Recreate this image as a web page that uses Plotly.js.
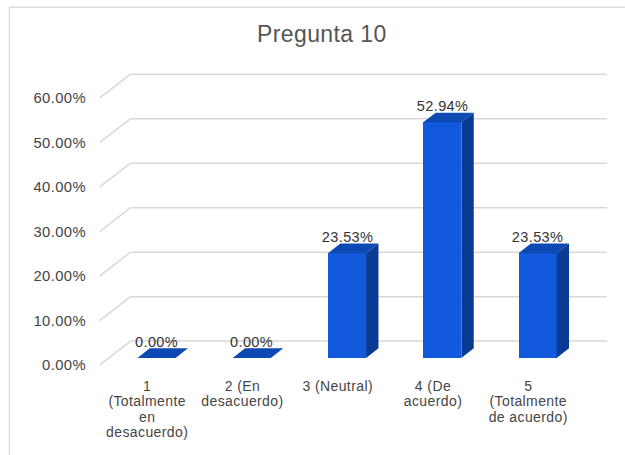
<!DOCTYPE html>
<html>
<head>
<meta charset="utf-8">
<script src="https://cdn.plot.ly/plotly-3.0.1.min.js"></script>
<style>
html, body { margin: 0; padding: 0; background: #fff; }
#chart { width: 625px; height: 455px; }
#chart text { letter-spacing: 0.4px; }
</style>
</head>
<body>
<div id="chart"></div>
<script>
// Question 10 answers, share of respondents per option
const categories = [
  '1<br>(Totalmente<br>en<br>desacuerdo)',
  '2 (En<br>desacuerdo)',
  '3 (Neutral)',
  '4 (De<br>acuerdo)',
  '5<br>(Totalmente<br>de acuerdo)'
];
const shares = [0, 0, 0.2353, 0.5294, 0.2353];
const yTicks = [0, 0.1, 0.2, 0.3, 0.4, 0.5, 0.6];
const chartTitle = 'Pregunta 10';

// Pseudo-3D geometry, in axis units (x: one unit per category, y: share)
const DEPTH_X = 0.3256, DEPTH_Y = 0.0539;   // floor depth vector
const BAR_NEAR = 0.3, BAR_FAR = 0.7;        // bar depth span (fraction of floor depth)
const BAR_LEFT = 0.3, BAR_RIGHT = 0.7;      // bar width span inside its slot

// Pixel frame of the plot
const W = 625, H = 455;
const ORIGIN_X = 100, ORIGIN_Y = 365, PX_PER_CAT = 95.2, PX_PER_UNIT = 445;
const X_RANGE = [-0.1, 5.4], Y_RANGE = [-0.02, 0.67];
const marginL = ORIGIN_X + X_RANGE[0] * PX_PER_CAT;
const marginR = W - (ORIGIN_X + X_RANGE[1] * PX_PER_CAT);
const marginT = ORIGIN_Y - Y_RANGE[1] * PX_PER_UNIT;
const marginB = H - (ORIGIN_Y - Y_RANGE[0] * PX_PER_UNIT);
const plotW = W - marginL - marginR, plotH = H - marginT - marginB;
const paperX = px => (px - marginL) / plotW;
const paperY = py => 1 - (py - marginT) / plotH;

const COLORS = { front: '#1259de', top: '#0c49b3', side: '#0a3b93', grid: '#d9d9d9', frame: '#dddddd' };
const LINE_GAP = 1.09; // em between label lines
const FONT = 'Liberation Sans, Arial, sans-serif';

function proj(x, v, d) { return [x + d * DEPTH_X, v + d * DEPTH_Y]; }

function polyTrace(polys, color) {
  const xs = [], ys = [];
  polys.forEach(p => {
    p.forEach(pt => { xs.push(pt[0]); ys.push(pt[1]); });
    xs.push(p[0][0]); ys.push(p[0][1]);
    xs.push(null); ys.push(null);
  });
  return { type: 'scatter', mode: 'lines', x: xs, y: ys, fill: 'toself',
    fillcolor: color, line: { width: 0, color: color }, hoverinfo: 'skip',
    showlegend: false, cliponaxis: false };
}

// Back wall gridlines and slanted side-wall edges, drawn beneath all traces
const gridShapes = [];
yTicks.forEach(v => {
  const a = proj(0, v, 0), b = proj(0, v, 1), c = proj(categories.length, v, 1);
  const line = { color: COLORS.grid, width: 1.5 };
  gridShapes.push({ type: 'line', xref: 'x', yref: 'y', layer: 'below', x0: a[0], y0: a[1], x1: b[0], y1: b[1], line });
  gridShapes.push({ type: 'line', xref: 'x', yref: 'y', layer: 'below', x0: b[0], y0: b[1], x1: c[0], y1: c[1], line });
});

// Top and side faces of every bar
const tops = [], sides = [];
shares.forEach((v, i) => {
  const l = i + BAR_LEFT, r = i + BAR_RIGHT;
  tops.push([proj(l, v, BAR_NEAR), proj(r, v, BAR_NEAR), proj(r, v, BAR_FAR), proj(l, v, BAR_FAR)]);
  sides.push([proj(r, 0, BAR_NEAR), proj(r, v, BAR_NEAR), proj(r, v, BAR_FAR), proj(r, 0, BAR_FAR)]);
});

// Front faces as a regular bar trace placed at the near depth
const frontTrace = {
  type: 'bar',
  x: shares.map((v, i) => i + (BAR_LEFT + BAR_RIGHT) / 2 + BAR_NEAR * DEPTH_X),
  y: shares,
  base: shares.map(() => BAR_NEAR * DEPTH_Y),
  width: BAR_RIGHT - BAR_LEFT,
  marker: { color: COLORS.front, line: { width: 0 } },
  hoverinfo: 'skip', showlegend: false
};

const data = [frontTrace, polyTrace(sides, COLORS.side), polyTrace(tops, COLORS.top)];

const annotations = shares.map((v, i) => ({
  x: i + (BAR_LEFT + BAR_RIGHT) / 2 + BAR_NEAR * DEPTH_X,
  y: v + BAR_NEAR * DEPTH_Y,
  text: (v * 100).toFixed(2) + '%',
  showarrow: false, yanchor: 'middle', yshift: 16,
  font: { family: FONT, size: 14.5, color: '#333333' }
}));

const layout = {
  width: W, height: H, autosize: false,
  margin: { l: marginL, r: marginR, t: marginT, b: marginB, pad: 0 },
  paper_bgcolor: '#ffffff', plot_bgcolor: 'rgba(0,0,0,0)',
  font: { family: FONT, size: 14, color: '#454545' },
  title: {
    text: chartTitle, x: 0.515, xref: 'container', xanchor: 'center',
    y: 1 - 34 / H, yref: 'container', yanchor: 'middle',
    font: { size: 23, color: '#555555' }
  },
  xaxis: {
    range: X_RANGE, showgrid: false, zeroline: false, showline: false,
    tickmode: 'array', tickvals: categories.map((c, i) => i + 0.5), ticktext: categories,
    ticks: '', ticklabelstandoff: 2, fixedrange: true
  },
  yaxis: {
    range: Y_RANGE, showgrid: false, zeroline: false, showline: false,
    tickmode: 'array', tickvals: yTicks, tickformat: '.2%',
    ticks: '', ticklabelstandoff: 3, fixedrange: true,
    tickfont: { size: 14.8 }
  },
  bargap: 0,
  annotations: annotations,
  shapes: gridShapes.concat([
    { type: 'line', xref: 'paper', yref: 'paper', x0: paperX(10), x1: paperX(W), y0: paperY(7), y1: paperY(7),
      line: { color: COLORS.frame, width: 1.5 } },
    { type: 'line', xref: 'paper', yref: 'paper', x0: paperX(10), x1: paperX(10), y0: paperY(7), y1: paperY(H),
      line: { color: COLORS.frame, width: 1.5 } }
  ]),
  hovermode: false
};

Plotly.newPlot('chart', data, layout, { staticPlot: true, displayModeBar: false }).then(gd => {
  // tighter line spacing for the wrapped category labels
  gd.querySelectorAll('.xtick text tspan.line').forEach(t => {
    const dy = parseFloat(t.getAttribute('dy'));
    if (!isNaN(dy)) t.setAttribute('dy', (dy * LINE_GAP / 1.3) + 'em');
  });
});
</script>
</body>
</html>
